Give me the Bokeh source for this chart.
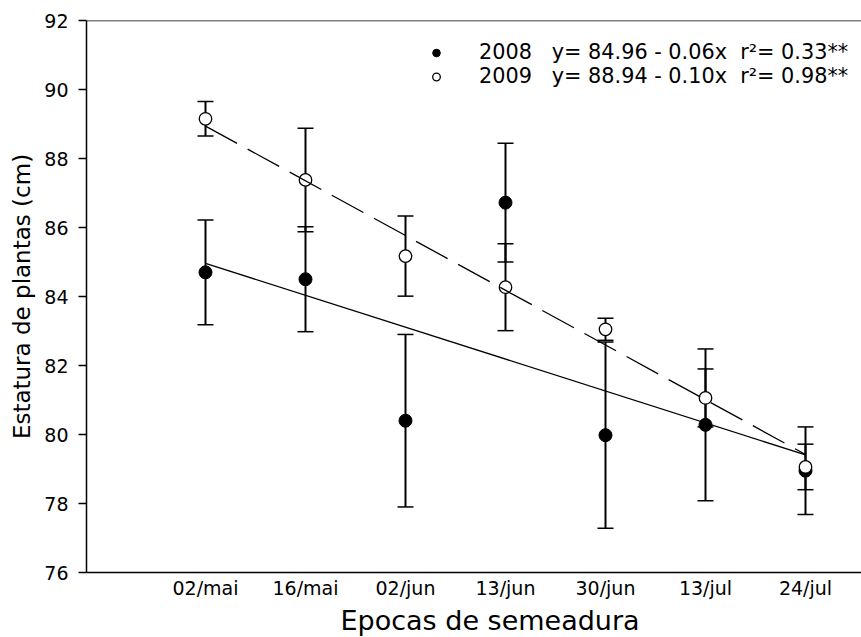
from bokeh.plotting import figure
from bokeh.models import (ColumnDataSource, Whisker, TeeHead, FixedTicker, Span,
                          Legend, LegendItem, Range1d, Title)
from bokeh.embed import file_html
from bokeh.resources import INLINE

# ---- data ----
categories = ["02/mai", "16/mai", "02/jun", "13/jun", "30/jun", "13/jul", "24/jul"]
y2008 = [84.70, 84.50, 80.40, 86.72, 79.98, 80.28, 78.95]
err2008 = [1.52, 1.52, 2.50, 1.72, 2.70, 2.20, 1.27]
y2009 = [89.15, 87.38, 85.17, 84.27, 83.05, 81.06, 79.06]
err2009 = [0.50, 1.50, 1.16, 1.26, 0.32, 0.84, 0.66]
# regression lines (value at first and last sowing date)
reg2008 = [84.96, 79.41]
reg2009 = [88.94, 79.42]
label2008 = "2008\u00a0\u00a0 y= 84.96 - 0.06x\u00a0 r\u00b2= 0.33**"
label2009 = "2009\u00a0\u00a0 y= 88.94 - 0.10x\u00a0 r\u00b2= 0.98**"
yticks = [76, 78, 80, 82, 84, 86, 88, 90, 92]
x_title = "Epocas de semeadura"
y_title = "Estatura de plantas (cm)"

xs = list(range(1, len(categories) + 1))
FONT = "DejaVu Sans"

p = figure(width=861, height=637, output_backend="svg", toolbar_location=None,
           x_range=Range1d(-0.19, 7.56), y_range=Range1d(76, 92),
           min_border_left=86, min_border_right=0, min_border_top=20,
           min_border_bottom=65)
p.outline_line_color = None
p.grid.grid_line_color = None
p.background_fill_color = "white"

# axes
p.xaxis.ticker = FixedTicker(ticks=xs)
p.xaxis.major_label_overrides = {x: c for x, c in zip(xs, categories)}
p.xaxis.major_tick_line_color = None
p.xaxis.major_tick_out = 0
p.xaxis.major_tick_in = 0
p.xaxis.minor_tick_line_color = None
p.xaxis.major_label_standoff = 4

p.yaxis.ticker = FixedTicker(ticks=yticks)
p.yaxis.major_tick_out = 8
p.yaxis.major_tick_in = 0
p.yaxis.minor_tick_line_color = None
p.yaxis.major_label_standoff = 10
p.yaxis.axis_label = y_title
p.yaxis.axis_label_standoff = 6

for ax in (p.xaxis[0], p.yaxis[0]):
    ax.axis_line_color = "black"
    ax.axis_line_width = 1.5
    ax.major_tick_line_width = 1.5
    ax.major_label_text_font = FONT
    ax.major_label_text_font_size = "19px"
    ax.major_label_text_color = "black"
    ax.axis_label_text_font = FONT
    ax.axis_label_text_font_style = "normal"
    ax.axis_label_text_color = "black"
p.yaxis.axis_label_text_font_size = "23px"

# x-axis title (below the axis)
p.add_layout(Title(text=x_title, align="left", offset=254, standoff=3,
                   text_font=FONT, text_font_size="27px", text_font_style="normal",
                   text_color="black"), "below")

# top frame line
p.add_layout(Span(location=92, dimension="width", line_color="black", line_width=1.5))

# error bars
src08 = ColumnDataSource(dict(x=xs, y=y2008,
                              upper=[v + e for v, e in zip(y2008, err2008)],
                              lower=[v - e for v, e in zip(y2008, err2008)]))
src09 = ColumnDataSource(dict(x=xs, y=y2009,
                              upper=[v + e for v, e in zip(y2009, err2009)],
                              lower=[v - e for v, e in zip(y2009, err2009)]))
for s in (src08, src09):
    w = Whisker(base="x", upper="upper", lower="lower", source=s, dimension="height",
                line_color="black", line_width=2, level="underlay",
                upper_head=TeeHead(size=16, line_width=1.5, line_color="black"),
                lower_head=TeeHead(size=16, line_width=1.5, line_color="black"))
    p.add_layout(w)

# points
r08 = p.scatter("x", "y", source=src08, marker="circle", size=13,
                fill_color="black", line_color="black")
r09 = p.scatter("x", "y", source=src09, marker="circle", size=12.5,
                fill_color="white", line_color="black", line_width=1.3)

# regression lines
p.line([xs[0], xs[-1]], reg2008, line_color="black", line_width=1.3)
p.line([xs[0], xs[-1]], reg2009, line_color="black", line_width=1.3, line_dash="36 12")

legend = Legend(items=[LegendItem(label=label2008, renderers=[r08]),
                       LegendItem(label=label2009, renderers=[r09])],
                location=(340, 484), padding=0, margin=0, spacing=0,
                glyph_width=20, glyph_height=19, label_height=19,
                label_standoff=33, label_text_font=FONT,
                label_text_font_size="20.8px", label_text_color="black",
                border_line_color=None, background_fill_alpha=0)
p.add_layout(legend)

open("out.html", "w").write(file_html(p, INLINE))
